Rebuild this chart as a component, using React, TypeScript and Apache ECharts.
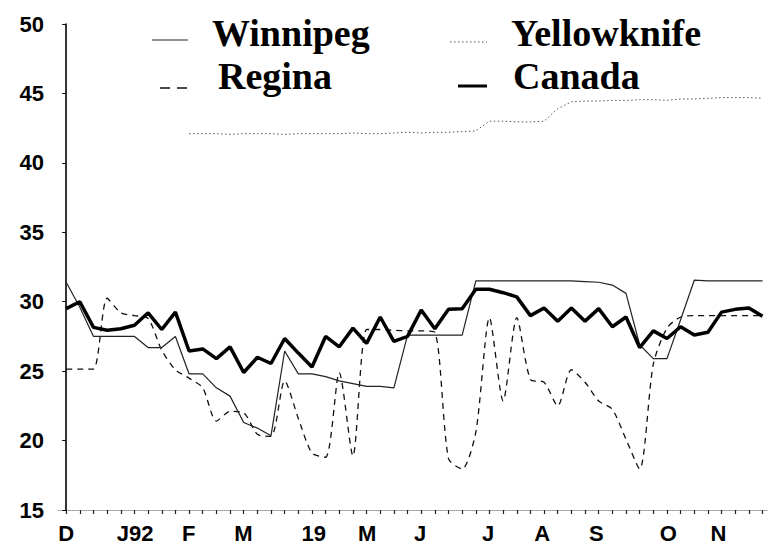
import React, { useEffect, useRef } from "react";
import * as echarts from "echarts";

// Month tick labels and their positions (in weeks from the first observation)
const monthLabels = ["D", "J92", "F", "M", "19", "M", "J", "J", "A", "S", "O", "N"];
const monthLabelPos = [0, 5.05, 8.97, 12.97, 18.13, 22.05, 25.93, 30.9, 34.87, 38.83, 44.1, 47.77];

const seriesNames = ["Winnipeg", "Regina", "Yellowknife", "Canada"];

const winnipeg = [
  31.4, 29.6, 27.5, 27.5, 27.5, 27.5, 26.7, 26.7, 27.5, 24.8, 24.8, 23.8, 23.2,
  21.3, 20.9, 20.35, 26.45, 24.8, 24.8, 24.6, 24.3, 24.1, 23.9, 23.9, 23.8, 27.6,
  27.6, 27.6, 27.6, 27.6, 31.5, 31.5, 31.5, 31.5, 31.5, 31.5, 31.5, 31.5, 31.45,
  31.4, 31.2, 30.6, 26.9, 25.9, 25.9, 28.7, 31.55, 31.5, 31.5, 31.5, 31.5, 31.5,
];

const regina = [
  25.15, 25.15, 25.15, 30.25, 29.2, 29.0, 28.8, 26.5, 25.1, 24.5, 23.8, 21.4, 22.1,
  22.0, 20.45, 20.3, 24.3, 21.6, 19.1, 18.8, 24.9, 18.9, 28.0, 28.0, 27.95, 27.9,
  27.9, 27.8, 18.7, 17.95, 20.6, 28.85, 22.85, 28.85, 24.4, 24.2, 22.5, 25.1, 24.2,
  22.85, 22.25, 20.1, 17.95, 25.5, 28.1, 28.9, 29.0, 29.0, 29.0, 29.0, 29.0, 29.0,
];

const yellowknife: (number | null)[] = [
  null, null, null, null, null, null, null, null, null, 42.1, 42.1, 42.1, 42.05,
  42.1, 42.1, 42.1, 42.05, 42.1, 42.1, 42.1, 42.1, 42.15, 42.1, 42.1, 42.15, 42.2,
  42.15, 42.2, 42.2, 42.25, 42.3, 43.0, 43.0, 42.95, 42.95, 43.0, 43.9, 44.4, 44.45,
  44.45, 44.5, 44.5, 44.55, 44.55, 44.5, 44.6, 44.6, 44.65, 44.7, 44.7, 44.7, 44.65,
];

const canada = [
  29.5, 30.0, 28.15, 27.95, 28.05, 28.3, 29.2, 28.0, 29.25, 26.45, 26.6, 25.9, 26.75,
  24.9, 26.0, 25.55, 27.35, 26.3, 25.3, 27.5, 26.75, 28.1, 27.0, 28.9, 27.15, 27.5,
  29.4, 28.05, 29.45, 29.5, 30.9, 30.9, 30.65, 30.35, 29.0, 29.55, 28.6, 29.55, 28.6,
  29.5, 28.2, 28.9, 26.7, 27.9, 27.35, 28.2, 27.6, 27.8, 29.25, 29.45, 29.55, 28.95,
];

const toPairs = (arr: (number | null)[]) => arr.map((v, i) => [i, v]);

export default function App() {
  const ref = useRef<HTMLDivElement>(null);

  useEffect(() => {
    if (!ref.current) return;
    const chart = echarts.init(ref.current, undefined, { renderer: "svg" });
    const weekIdx = canada.map((_, i) => i);
    const sans = "'Liberation Sans', Arial, Helvetica, sans-serif";
    const serif = "'Liberation Serif', 'Times New Roman', Times, serif";
    const legendFont = `bold 38px ${serif}`;

    const option: any = {
      animation: false,
      backgroundColor: "#fff",
      grid: { left: 58, right: 12, top: 24, bottom: 39, containLabel: false },
      xAxis: {
        type: "value",
        min: -0.6,
        max: 51.4,
        splitLine: { show: false },
        axisLine: { show: true, lineStyle: { color: "#999", type: "dotted", width: 1 } },
        axisTick: {
          show: true,
          customValues: weekIdx,
          length: 4,
          lineStyle: { color: "#222", width: 1.2 },
        },
        axisLabel: {
          customValues: monthLabelPos,
          formatter: (val: number) => {
            const k = monthLabelPos.findIndex((p) => Math.abs(p - val) < 0.01);
            return k >= 0 ? monthLabels[k] : "";
          },
          color: "#000",
          fontFamily: sans,
          fontWeight: "bold",
          fontSize: 22,
          margin: 12,
        },
      },
      yAxis: {
        type: "value",
        min: 15,
        max: 50,
        interval: 5,
        splitLine: { show: false },
        axisLine: { show: true, lineStyle: { color: "#000", width: 1.6 } },
        axisTick: { show: true, length: 4, lineStyle: { color: "#000", width: 1 } },
        axisLabel: {
          color: "#000",
          fontFamily: sans,
          fontWeight: "bold",
          fontSize: 22,
          margin: 14,
        },
      },
      series: [
        {
          name: seriesNames[2],
          type: "line",
          data: toPairs(yellowknife),
          symbol: "none",
          connectNulls: false,
          lineStyle: { color: "#555", width: 1, type: [1.5, 2.5] },
          z: 2,
        },
        {
          name: seriesNames[1],
          type: "line",
          data: toPairs(regina),
          symbol: "none",
          smooth: 0.25,
          lineStyle: { color: "#111", width: 1.3, type: [6, 5] },
          z: 3,
        },
        {
          name: seriesNames[0],
          type: "line",
          data: toPairs(winnipeg),
          symbol: "none",
          lineStyle: { color: "#222", width: 1.2 },
          z: 4,
        },
        {
          name: seriesNames[3],
          type: "line",
          data: toPairs(canada),
          symbol: "none",
          lineStyle: { color: "#000", width: 3.5 },
          z: 5,
        },
      ],
      graphic: [
        { type: "line", shape: { x1: 152, y1: 40, x2: 188, y2: 40 }, style: { stroke: "#222", lineWidth: 1.2 } },
        { type: "text", x: 212, y: 33, style: { text: seriesNames[0], font: legendFont, fill: "#000", verticalAlign: "middle" } },
        { type: "line", shape: { x1: 160, y1: 88, x2: 188, y2: 88 }, style: { stroke: "#111", lineWidth: 1.3, lineDash: [10, 7] } },
        { type: "text", x: 218, y: 76, style: { text: seriesNames[1], font: legendFont, fill: "#000", verticalAlign: "middle" } },
        { type: "line", shape: { x1: 450, y1: 42, x2: 487, y2: 42 }, style: { stroke: "#555", lineWidth: 1, lineDash: [1.5, 2.5] } },
        { type: "text", x: 511, y: 33, style: { text: seriesNames[2], font: legendFont, fill: "#000", verticalAlign: "middle" } },
        { type: "line", shape: { x1: 458, y1: 86, x2: 487, y2: 86 }, style: { stroke: "#000", lineWidth: 3 } },
        { type: "text", x: 513, y: 76, style: { text: seriesNames[3], font: legendFont, fill: "#000", verticalAlign: "middle" } },
      ],
    };

    chart.setOption(option);
    return () => chart.dispose();
  }, []);

  return (
    <div
      ref={ref}
      style={{ position: "fixed", left: 0, top: 0, width: 780, height: 549, background: "#fff" }}
    />
  );
}
